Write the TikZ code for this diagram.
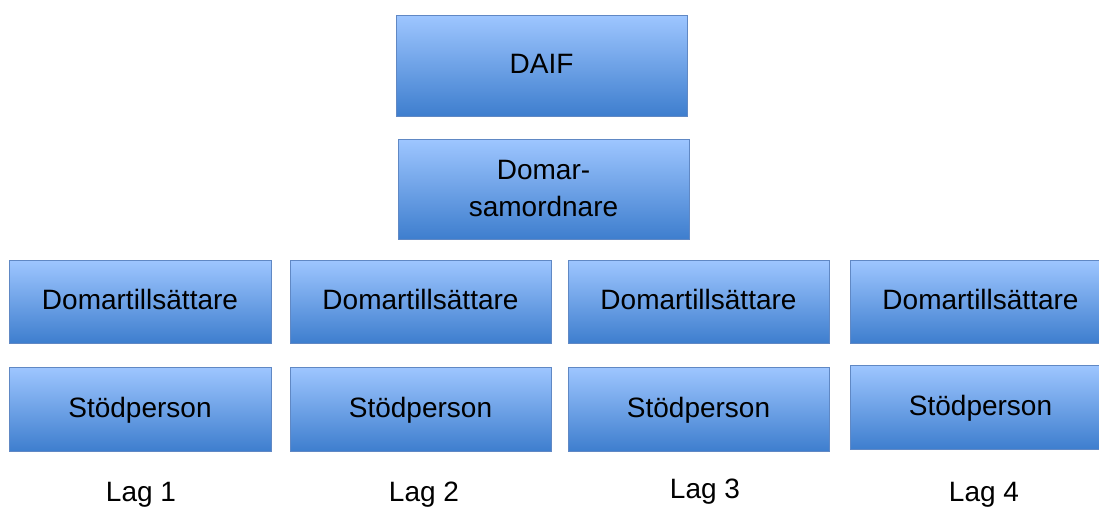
\documentclass[tikz,border=0pt]{standalone}
\usepackage{fontspec}
\setmainfont{Liberation Sans}
\definecolor{boxtop}{RGB}{158,198,255}
\definecolor{boxbottom}{RGB}{62,126,206}
\definecolor{boxline}{RGB}{96,136,196}
\tikzset{
  block/.style={draw=boxline, line width=1pt, rectangle, top color=boxtop,
    bottom color=boxbottom, align=center, inner sep=0pt,
    font=\fontsize{28}{37}\selectfont},
  oneline/.style={block, text height=20pt, text depth=4pt},
  lag/.style={font=\fontsize{28}{34}\selectfont, inner sep=0pt, anchor=base}
}
\begin{document}
\begin{tikzpicture}[x=1pt, y=-1pt]
\useasboundingbox (0,0) rectangle (1099,506);
\clip (0,0) rectangle (1099,506);

\node[oneline, minimum width=291pt, minimum height=101pt, text depth=5pt] (daif) at(541.5, 65.5) {DAIF};
\node[block, minimum width=291pt, minimum height=100pt] (samordnare) at(543.5,189) {Domar-\\samordnare};

\node[oneline, minimum width=262pt, minimum height=83pt] (tills1) at(140,  301.5) {Domartillsättare};
\node[oneline, minimum width=261pt, minimum height=83pt] (tills2) at(420.5,301.5) {Domartillsättare};
\node[oneline, minimum width=261pt, minimum height=83pt] (tills3) at(698.5,301.5) {Domartillsättare};
\node[oneline, minimum width=261pt, minimum height=83pt] (tills4) at(980.5,301.5) {Domartillsättare};

\node[oneline, minimum width=262pt, minimum height=84pt] (stod1) at(140,  409) {Stödperson};
\node[oneline, minimum width=261pt, minimum height=84pt] (stod2) at(420.5,409) {Stödperson};
\node[oneline, minimum width=261pt, minimum height=84pt] (stod3) at(698.5,409) {Stödperson};
\node[oneline, minimum width=261pt, minimum height=84pt] (stod4) at(980.5,407) {Stödperson};

\node[lag] (lag1) at(141,501) {Lag 1};
\node[lag] (lag2) at(424,501) {Lag 2};
\node[lag] (lag3) at(705,498) {Lag 3};
\node[lag] (lag4) at(984,501) {Lag 4};

\end{tikzpicture}
\end{document}
